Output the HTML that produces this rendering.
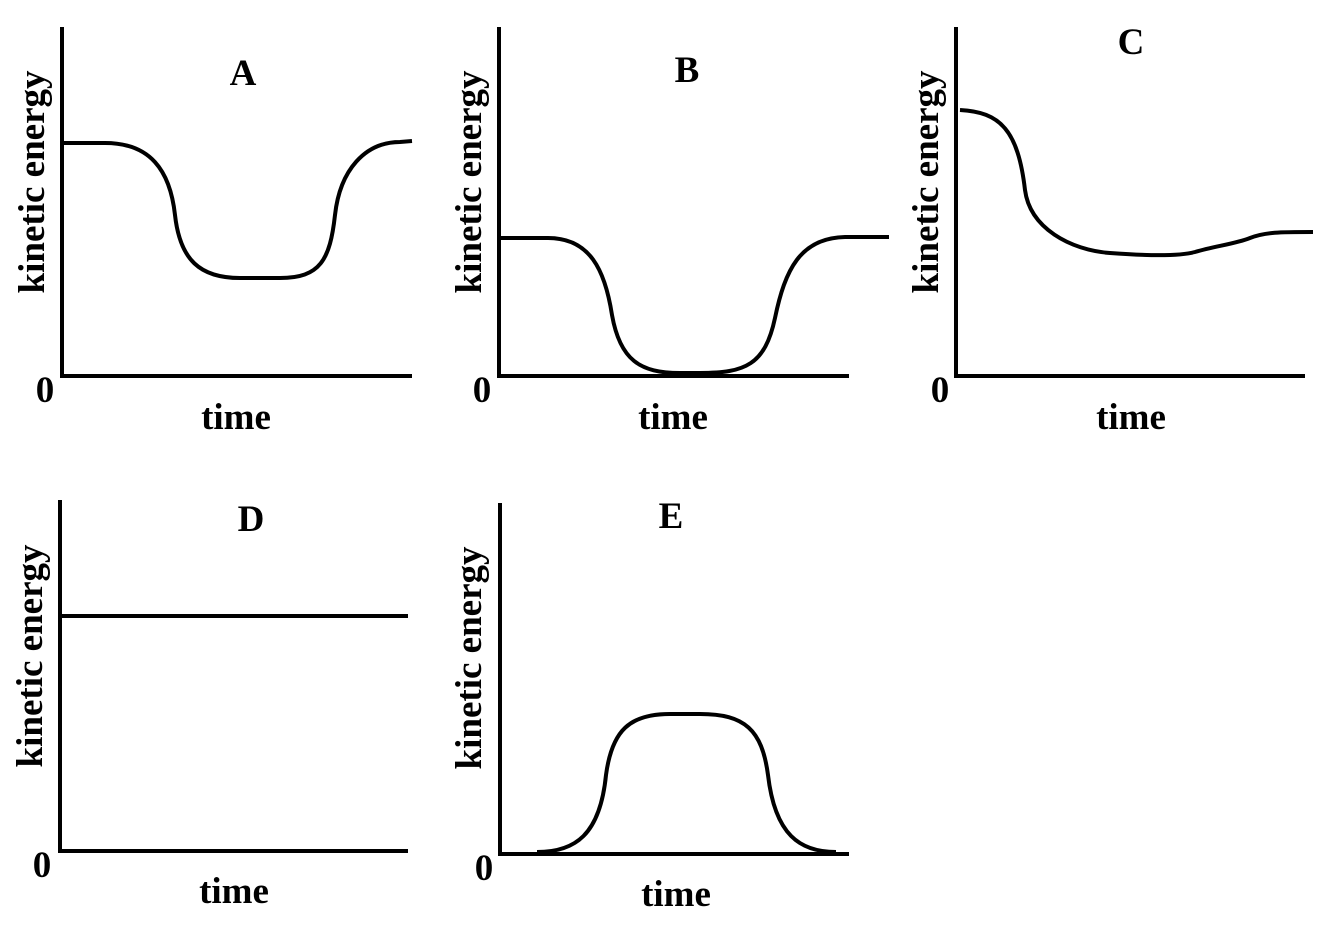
<!DOCTYPE html>
<html><head><style>body{margin:0;background:#fff}svg{display:block}text{font-family:"Liberation Serif",serif;font-weight:bold;font-size:37px;fill:#000}</style></head>
<body>
<svg width="1329" height="930" viewBox="0 0 1329 930" xmlns="http://www.w3.org/2000/svg">
<g fill="none" stroke="#000" stroke-width="4">
<path d="M62 27V376H412"/>
<path d="M499 27V376H849"/>
<path d="M956 27V376H1305"/>
<path d="M60 500V851H408"/>
<path d="M500 503V854H849"/>
<path d="M62 143H105C150 143 170 170 175 215C180 260 200 278 240 278H280C320 278 330 260 335 215C340 170 365 142 400 142L412 141"/>
<path d="M499 238H548C590 238 605 270 612 315C620 360 640 373 680 373H700C745 373 765 365 775 318C785 270 800 238 845 237H889"/>
<path d="M960 110C1000 112 1018 130 1025 190C1030 228 1070 250 1110 253C1150 256 1180 256 1195 252C1215 246 1235 244 1250 238C1265 232 1280 232 1313 232"/>
<path d="M60 616H408"/>
<path d="M537 852C575 852 600 835 606 775C612 730 630 714 670 714H700C745 714 762 730 768 775C775 835 800 852 836 852"/>
</g>
<text x="243" y="85" text-anchor="middle">A</text>
<text x="687" y="82" text-anchor="middle">B</text>
<text x="1131" y="54" text-anchor="middle">C</text>
<text x="251" y="531" text-anchor="middle">D</text>
<text x="671" y="528" text-anchor="middle">E</text>
<text x="45" y="402" text-anchor="middle">0</text>
<text x="482" y="402" text-anchor="middle">0</text>
<text x="940" y="402" text-anchor="middle">0</text>
<text x="42" y="877" text-anchor="middle">0</text>
<text x="484" y="880" text-anchor="middle">0</text>
<text x="236" y="429" text-anchor="middle">time</text>
<text x="673" y="429" text-anchor="middle">time</text>
<text x="1131" y="429" text-anchor="middle">time</text>
<text x="234" y="903" text-anchor="middle">time</text>
<text x="676" y="906" text-anchor="middle">time</text>
<text transform="translate(44,182) rotate(-90)" text-anchor="middle">kinetic energy</text>
<text transform="translate(481,182) rotate(-90)" text-anchor="middle">kinetic energy</text>
<text transform="translate(938,182) rotate(-90)" text-anchor="middle">kinetic energy</text>
<text transform="translate(42,656) rotate(-90)" text-anchor="middle">kinetic energy</text>
<text transform="translate(481,658) rotate(-90)" text-anchor="middle">kinetic energy</text>
</svg>
</body></html>
